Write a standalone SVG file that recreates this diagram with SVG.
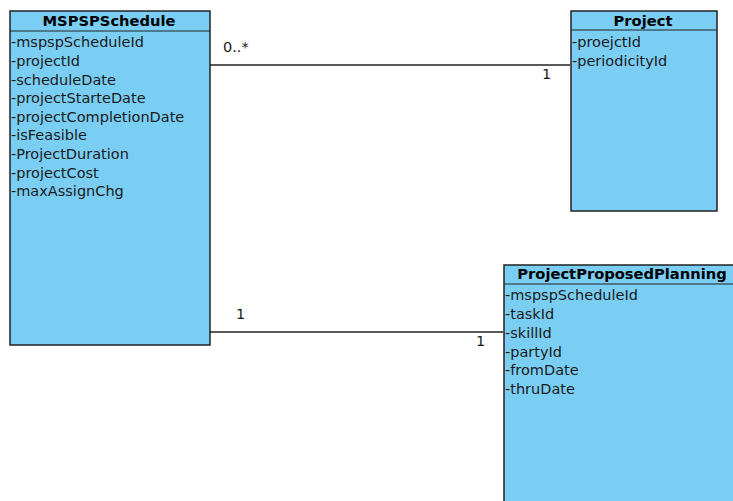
<svg xmlns="http://www.w3.org/2000/svg" width="733" height="501" viewBox="0 0 733 501">
<style>
.box{fill:#7acef4;stroke:#222;stroke-width:1.5}
.sep{stroke:#222;stroke-width:1.2}
.t{font-family:"DejaVu Sans",sans-serif;font-size:14.7px;font-weight:bold;fill:#000;text-anchor:middle}
.a{font-family:"DejaVu Sans",sans-serif;font-size:14.5px;fill:#1a1a1a}
.c{stroke:#222;stroke-width:1.3;fill:none}
.l{font-family:"DejaVu Sans",sans-serif;font-size:14.5px;fill:#1a1a1a}
</style>
<rect width="733" height="501" fill="#fff"/>
<g id="connectors">
<line class="c" x1="210" y1="65" x2="570" y2="65"/>
<text class="l" x="223" y="52">0..*</text>
<text class="l" x="542" y="79">1</text>
<line class="c" x1="210" y1="332" x2="503" y2="332"/>
<text class="l" x="236" y="319">1</text>
<text class="l" x="476" y="346">1</text>
</g>
<g id="MSPSPSchedule">
<rect class="box" x="10" y="11" width="200" height="334"/>
<line class="sep" x1="10" y1="31" x2="210" y2="31"/>
<text class="t" x="109" y="26">MSPSPSchedule</text>
<text class="a" x="11" y="47">-mspspScheduleId</text>
<text class="a" x="11" y="66">-projectId</text>
<text class="a" x="11" y="85">-scheduleDate</text>
<text class="a" x="11" y="103">-projectStarteDate</text>
<text class="a" x="11" y="122">-projectCompletionDate</text>
<text class="a" x="11" y="140">-isFeasible</text>
<text class="a" x="11" y="159">-ProjectDuration</text>
<text class="a" x="11" y="178">-projectCost</text>
<text class="a" x="11" y="196">-maxAssignChg</text>
</g>
<g id="Project">
<rect class="box" x="571" y="11" width="146" height="200"/>
<line class="sep" x1="571" y1="30" x2="717" y2="30"/>
<text class="t" x="643" y="26">Project</text>
<text class="a" x="572" y="47">-proejctId</text>
<text class="a" x="572" y="66">-periodicityId</text>
</g>
<g id="ProjectProposedPlanning">
<rect class="box" x="504" y="265" width="240" height="250"/>
<line class="sep" x1="504" y1="284" x2="733" y2="284"/>
<text class="t" x="622" y="279">ProjectProposedPlanning</text>
<text class="a" x="505" y="300">-mspspScheduleId</text>
<text class="a" x="505" y="319">-taskId</text>
<text class="a" x="505" y="338">-skillId</text>
<text class="a" x="505" y="357">-partyId</text>
<text class="a" x="505" y="375">-fromDate</text>
<text class="a" x="505" y="394">-thruDate</text>
</g>
</svg>
